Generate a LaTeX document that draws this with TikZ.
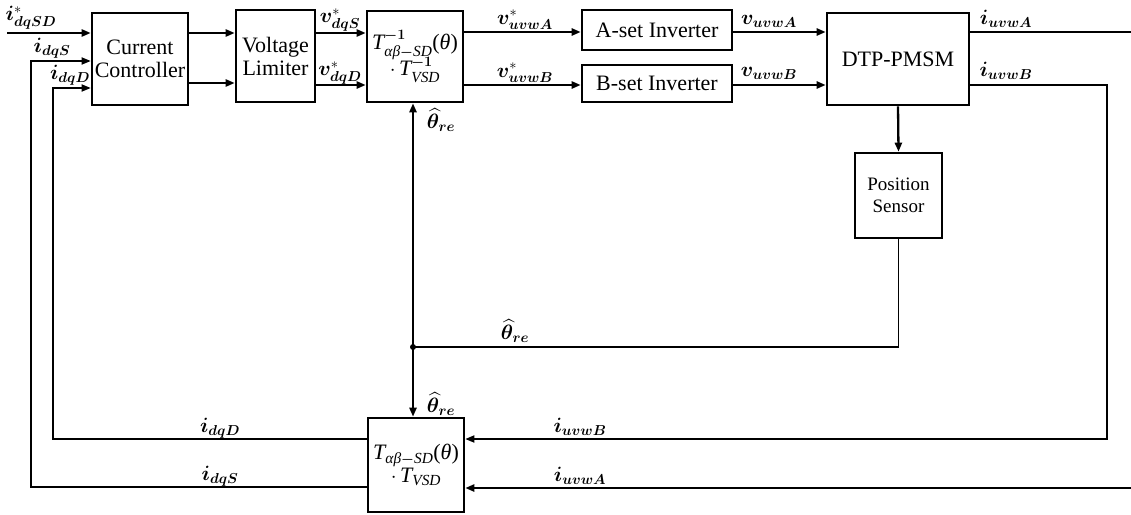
\documentclass[tikz,border=0pt]{standalone}
\usepackage{fontspec}
\usepackage{amsmath,bm}
\setmainfont{Liberation Serif}
\newfontfamily\tnr{Liberation Serif}
\newcommand\tit[1]{\text{\tnr\itshape #1}}
\newcommand\tup[1]{\text{\tnr #1}}
\usetikzlibrary{arrows.meta}
\begin{document}
\begin{tikzpicture}[x=1pt,y=-1pt,
  blk/.style={draw,line width=2.6pt,inner sep=0pt,align=center,font=\tnr\fontsize{22}{25}\selectfont},
  arr/.style={line width=2.3pt,-{Triangle[length=9pt,width=7pt]}},
  thin/.style={line width=1.7pt},
  thinarr/.style={line width=1.7pt,-{Triangle[length=9pt,width=7pt]}},
  lbl/.style={inner sep=0pt,font=\fontsize{20}{23}\selectfont}]
\useasboundingbox (0,0) rectangle (1131,514);
% blocks
\node[blk,minimum width=96pt,minimum height=92pt] (cc) at (140,59) {Current\\[-2pt]Controller};
\node[blk,minimum width=79pt,minimum height=92pt] (vl) at (275.5,56) {Voltage\\[-2pt]Limiter};
\node[blk,minimum width=96pt,minimum height=91pt,font=\tnr\fontsize{22}{25}\selectfont] (tf) at (415,56.5) {$\tit{T}^{\bm{-1}}_{\tit{αβ}\bm{-}\tit{SD}}\tup{(}\tit{θ}\tup{)}$\\[-3pt]$\cdot\, \tit{T}^{\bm{-1}}_{\tit{VSD}}$};
\node[blk,minimum width=150pt,minimum height=40pt] (ai) at (657,30) {A-set Inverter};
\node[blk,minimum width=150pt,minimum height=37pt] (bi) at (657,83.5) {B-set Inverter};
\node[blk,minimum width=142pt,minimum height=92pt] (pm) at (898,59) {DTP-PMSM};
\node[blk,minimum width=87pt,minimum height=85pt,font=\tnr\fontsize{19}{22}\selectfont] (ps) at (898.5,195.5) {Position\\Sensor};
\node[blk,minimum width=96pt,minimum height=94pt,font=\tnr\fontsize{22}{25}\selectfont] (tb) at (416,465) {$\tit{T}_{\tit{αβ}\bm{-}\tit{SD}}\tup{(}\tit{θ}\tup{)}$\\[-2pt]$\cdot\, \tit{T}_{\tit{VSD}}$};
% forward path
\coordinate (in) at (7,33);
\draw[arr] (in) -- (in -| cc.west);
\draw[arr] (cc.east |- 0,33) -- (vl.west |- 0,33);
\draw[arr] (cc.east |- 0,83) -- (vl.west |- 0,83);
\draw[arr] (vl.east |- 0,33) -- (tf.west |- 0,33);
\draw[arr] (vl.east |- 0,85) -- (tf.west |- 0,85);
\draw[arr] (tf.east |- 0,32) -- (ai.west |- 0,32);
\draw[arr] (tf.east |- 0,85) -- (bi.west |- 0,85);
\draw[arr] (ai.east |- 0,32) -- (pm.west |- 0,32);
\draw[arr] (bi.east |- 0,85) -- (pm.west |- 0,85);
\coordinate (outA) at (1131,32);
\draw[thin] (pm.east |- outA) -- (outA);
\draw[arr] (pm.south) -- (ps.north);
% position feedback
\coordinate (j) at (413,347);
\draw[thin] (ps.south) |- (j);
\draw[arr] (j) -- (tf.south -| j);
\draw[arr] (j) -- (tb.north -| j);
\fill (j) circle (3pt);
% current feedback
\coordinate (rB) at (1107,85);
\draw[thinarr] (pm.east |- rB) -- (rB) |- (tb.east |- 0,439);
\coordinate (inA) at (1131,488);
\draw[arr] (inA) -- (tb.east |- inA);
\coordinate (lS) at (31,487);
\coordinate (lD) at (53,439);
\draw[thinarr] (tb.west |- lS) -- (lS) |- (cc.west |- 0,61);
\draw[thinarr] (tb.west |- lD) -- (lD) |- (cc.west |- 0,88);
% labels
\node[lbl] (l1) at (31,18) {$\bm{i}^{*}_{\bm{dqSD}}$};
\node[lbl] (l2) at (52,48) {$\bm{i}_{\bm{dqS}}$};
\node[lbl] (l3) at (70,75) {$\bm{i}_{\bm{dqD}}$};
\node[lbl] (l4) at (340,20) {$\bm{v}^{*}_{\bm{dqS}}$};
\node[lbl] (l5) at (340,73) {$\bm{v}^{*}_{\bm{dqD}}$};
\node[lbl] (l6) at (525,20) {$\bm{v}^{*}_{\bm{uvwA}}$};
\node[lbl] (l7) at (525,73) {$\bm{v}^{*}_{\bm{uvwB}}$};
\node[lbl] (l8) at (769,21) {$\bm{v}_{\bm{uvwA}}$};
\node[lbl] (l9) at (769,73) {$\bm{v}_{\bm{uvwB}}$};
\node[lbl] (l10) at (1006,19) {$\bm{i}_{\bm{uvwA}}$};
\node[lbl] (l11) at (1006,71) {$\bm{i}_{\bm{uvwB}}$};
\node[lbl] (l12) at (441,120) {$\widehat{\bm{\theta}}_{\bm{re}}$};
\node[lbl] (l13) at (515,331) {$\widehat{\bm{\theta}}_{\bm{re}}$};
\node[lbl] (l14) at (441,404) {$\widehat{\bm{\theta}}_{\bm{re}}$};
\node[lbl] (l15) at (580,427) {$\bm{i}_{\bm{uvwB}}$};
\node[lbl] (l16) at (580,476) {$\bm{i}_{\bm{uvwA}}$};
\node[lbl] (l17) at (220,428) {$\bm{i}_{\bm{dqD}}$};
\node[lbl] (l18) at (220,476) {$\bm{i}_{\bm{dqS}}$};
\end{tikzpicture}
\end{document}
